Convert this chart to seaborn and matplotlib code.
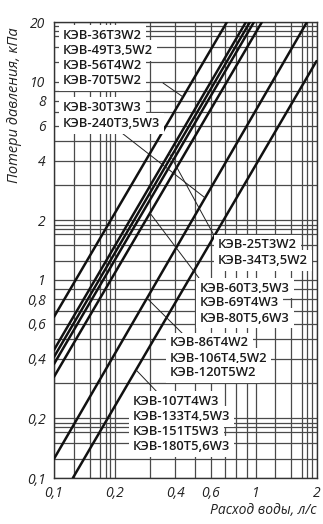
import numpy as np
import pandas as pd
import matplotlib
matplotlib.use("Agg")
import matplotlib.pyplot as plt
import seaborn as sns

# ---- data ----
line_ids = ["A", "G1", "G2", "G3", "G4", "B", "C"]
q_start = [0.100, 0.100, 0.100, 0.100, 0.100, 0.100, 0.124]
dp_start = [0.650, 0.443, 0.408, 0.376, 0.324, 0.125, 0.100]
q_end = [0.720, 0.894, 0.936, 0.980, 1.073, 1.794, 2.000]
dp_end = [20.0, 20.0, 20.0, 20.0, 20.0, 20.0, 12.7]

grid_steps = [1, 1.25, 1.5, 1.7, 1.8, 1.9, 2, 3, 4, 5, 6, 7, 8, 9]
x_decades = [0.1, 1]
y_decades = [0.1, 1, 10]

xticks = [0.1, 0.2, 0.4, 0.6, 1, 2]
xtick_labels = ["0,1", "0,2", "0,4", "0,6", "1", "2"]
yticks = [0.1, 0.2, 0.4, 0.6, 0.8, 1, 2, 4, 6, 8, 10, 20]
ytick_labels = ["0,1", "0,2", "0,4", "0,6", "0,8", "1", "2", "4", "6", "8", "10", "20"]

label_groups = [
    ["КЭВ-36T3W2", "КЭВ-49T3,5W2", "КЭВ-56T4W2", "КЭВ-70T5W2"],
    ["КЭВ-30T3W3", "КЭВ-240T3,5W3"],
    ["КЭВ-25T3W2", "КЭВ-34T3,5W2"],
    ["КЭВ-60T3,5W3", "КЭВ-69T4W3", "КЭВ-80T5,6W3"],
    ["КЭВ-86T4W2", "КЭВ-106T4,5W2", "КЭВ-120T5W2"],
    ["КЭВ-107T4W3", "КЭВ-133T4,5W3", "КЭВ-151T5W3", "КЭВ-180T5,6W3"],
]
group_line = ["A", "B", "G1", "G4", "B", "C"]
pointer_q = [0.436, 0.561, 0.372, 0.299, 0.289, 0.255]

xlabel = "Расход воды, л/с"
ylabel = "Потери давления, кПа"

# ---- layout (pixels of a 323x524 canvas) ----
W, H = 323, 524
L, R, T, B = 54, 316.5, 22, 478
group_pos = [(63, 35.7, 15.1), (63, 107.7, 15.6), (218, 245, 15.7),
             (200, 288, 15.0), (170, 343, 15.0), (133, 401.7, 15.0)]
pointer_text = [(163, 83), (118, 130), (216, 239), (202, 282), (186, 337), (160, 395)]

sns.set_style("white")
plt.rcParams["font.family"] = ["Open Sans", "DejaVu Sans"]

fig = plt.figure(figsize=(W / 100, H / 100), dpi=100)
ax = fig.add_axes([L / W, 1 - B / H, (R - L) / W, (B - T) / H])
ax.set_xscale("log")
ax.set_yscale("log")

# grid
for d in x_decades:
    for s in grid_steps:
        v = d * s
        if 0.1 <= v <= 2.0:
            ax.axvline(v, color="#4a4a4a", lw=0.9, zorder=1)
for d in y_decades:
    for s in grid_steps:
        v = d * s
        if 0.1 <= v <= 20:
            ax.axhline(v, color="#4a4a4a", lw=0.9, zorder=1)

rows = []
for i, lid in enumerate(line_ids):
    rows.append({"line": lid, "q": q_start[i], "dp": dp_start[i]})
    rows.append({"line": lid, "q": q_end[i], "dp": dp_end[i]})
df = pd.DataFrame(rows)
sns.lineplot(data=df, x="q", y="dp", units="line", estimator=None,
             color="#111111", lw=1.8, ax=ax, zorder=2, legend=False)

ax.set_xlim(0.1, 2)
ax.set_ylim(0.1, 20)
ax.minorticks_off()
ax.set_xticks(xticks)
ax.set_xticklabels(xtick_labels)
ax.set_yticks(yticks)
ax.set_yticklabels(ytick_labels)
ax.tick_params(length=0, pad=6, labelsize=10, colors="#222222")
for t in ax.get_xticklabels() + ax.get_yticklabels():
    t.set_fontstyle("italic")
ax.set_xlabel("")
ax.set_ylabel("")
for s in ax.spines.values():
    s.set_color("#333333")
    s.set_linewidth(1.0)
    s.set_zorder(1.5)


def on_line(lid, q):
    i = line_ids.index(lid)
    lx0, lx1 = np.log10(q_start[i]), np.log10(q_end[i])
    ly0, ly1 = np.log10(dp_start[i]), np.log10(dp_end[i])
    t = (np.log10(q) - lx0) / (lx1 - lx0)
    return 10 ** (ly0 + t * (ly1 - ly0))


for g, (names, (px, py, sp)) in enumerate(zip(label_groups, group_pos)):
    for k, name in enumerate(names):
        fig.text(px / W, 1 - (py + k * sp) / H, name, ha="left", va="center",
                 fontsize=9.4, fontweight="semibold", color="#1a1a1a", zorder=5,
                 bbox=dict(boxstyle="square,pad=0.3", fc="white", ec="none"))
    q = pointer_q[g]
    tx, ty = pointer_text[g]
    ax.annotate("", xy=(q, on_line(group_line[g], q)), xycoords="data",
                xytext=(tx / W, 1 - ty / H), textcoords="figure fraction",
                arrowprops=dict(arrowstyle="-", lw=0.7, color="#222222",
                                shrinkA=0, shrinkB=0), zorder=2.5)

fig.text(316 / W, 1 - 511 / H, xlabel, ha="right", va="center",
         fontsize=10, fontstyle="italic", color="#222222")
fig.text(15 / W, 1 - 105 / H, ylabel, ha="center", va="center", rotation=90,
         fontsize=10.5, fontstyle="italic", color="#222222")

fig.savefig("out.png", dpi=100)
